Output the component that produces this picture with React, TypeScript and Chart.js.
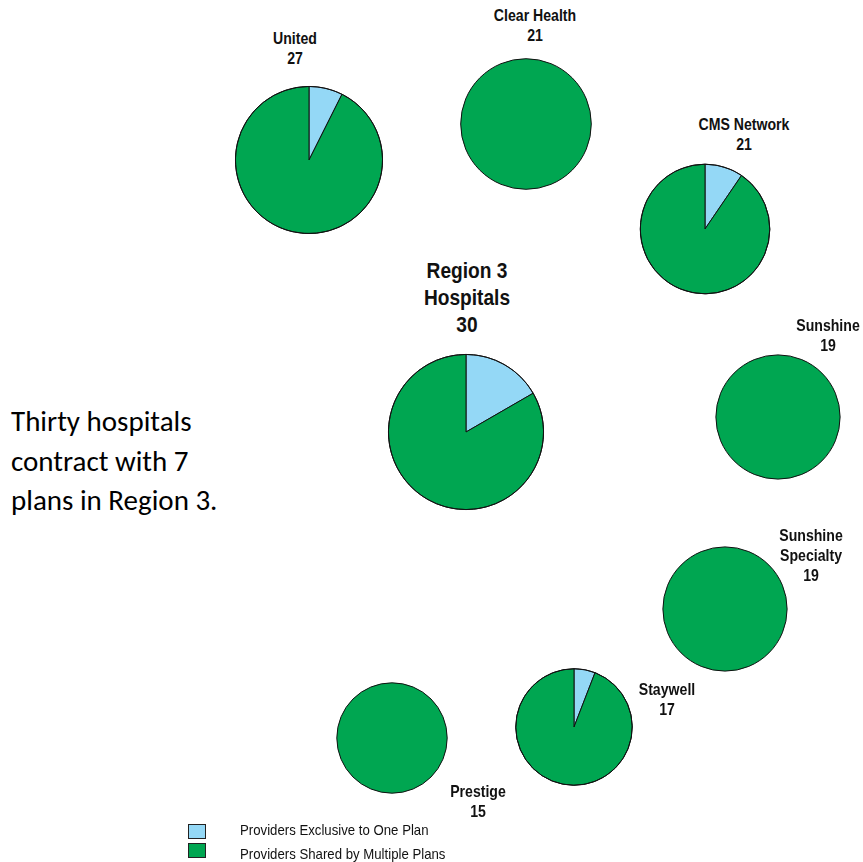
import React, { useEffect, useRef } from "react";
import { Chart, registerables } from "chart.js";
Chart.register(...registerables);

// ---- data ----
const planNames = [
  "Region 3\nHospitals",
  "United",
  "Clear Health",
  "CMS Network",
  "Sunshine",
  "Sunshine\nSpecialty",
  "Staywell",
  "Prestige",
];
const exclusiveProviders = [5, 2, 0, 2, 0, 0, 1, 0];
const sharedProviders = [25, 25, 21, 19, 19, 19, 16, 15];
const seriesLabels = ["Providers Exclusive to One Plan", "Providers Shared by Multiple Plans"];
const noteLines = ["Thirty hospitals", "contract with 7", "plans in Region 3."];

// ---- styles / layout ----
const SERIES_COLORS = ["#94D8F6", "#00A651"];
const RADIUS_PER_SQRT = 14.25;

const pieLayout = [
  { cx: 466, cy: 432, lx: 467, ly: 256.5, big: true },
  { cx: 309, cy: 160, lx: 295, ly: 29 },
  { cx: 526, cy: 124, lx: 535, ly: 6 },
  { cx: 705, cy: 229, lx: 744, ly: 115 },
  { cx: 778, cy: 417, lx: 828, ly: 316 },
  { cx: 725, cy: 609, lx: 811, ly: 526 },
  { cx: 574, cy: 727, lx: 667, ly: 680 },
  { cx: 392, cy: 738, lx: 478, ly: 782 },
];

const outlinePlugin = {
  id: "outline",
  afterDatasetsDraw(chart: any) {
    const meta = chart.getDatasetMeta(0);
    const arc = meta.data[0];
    if (!arc) return;
    const { x, y, outerRadius } = arc.getProps(["x", "y", "outerRadius"], true);
    const ctx = chart.ctx;
    ctx.save();
    ctx.beginPath();
    ctx.arc(x, y, outerRadius, 0, Math.PI * 2);
    ctx.lineWidth = 1;
    ctx.strokeStyle = "#111";
    ctx.stroke();
    ctx.restore();
  },
};

function PieChart({ idx }: { idx: number }) {
  const ref = useRef<HTMLCanvasElement>(null);
  const total = exclusiveProviders[idx] + sharedProviders[idx];
  const r = RADIUS_PER_SQRT * Math.sqrt(total);
  const S = 2 * Math.ceil(r) + 6;
  const pad = (S - 2 * r) / 2;
  const { cx, cy } = pieLayout[idx];
  useEffect(() => {
    const chart = new Chart(ref.current!, {
      type: "pie",
      data: {
        labels: seriesLabels,
        datasets: [
          {
            data: [exclusiveProviders[idx], sharedProviders[idx]],
            backgroundColor: SERIES_COLORS,
            borderColor: "#111",
            borderWidth: exclusiveProviders[idx] > 0 ? 1 : 0,
          },
        ],
      },
      options: {
        responsive: false,
        animation: false,
        events: [],
        layout: { padding: pad },
        plugins: { legend: { display: false }, tooltip: { enabled: false } },
      },
      plugins: [outlinePlugin],
    });
    return () => chart.destroy();
  }, []);
  return (
    <canvas
      ref={ref}
      width={S}
      height={S}
      style={{ position: "absolute", left: cx - S / 2, top: cy - S / 2, width: S, height: S }}
    />
  );
}

function PieLabel({ idx }: { idx: number }) {
  const { lx, ly, big } = pieLayout[idx] as any;
  const total = exclusiveProviders[idx] + sharedProviders[idx];
  const lines = [...planNames[idx].split("\n"), String(total)];
  return (
    <div
      style={{
        position: "absolute",
        left: lx - 100,
        top: ly,
        width: 200,
        textAlign: "center",
        fontFamily: '"Liberation Sans", Arial, sans-serif',
        fontWeight: "bold",
        fontSize: big ? 22 : 17,
        lineHeight: big ? "27px" : "20px",
        transform: big ? "scaleX(0.87)" : "scaleX(0.83)",
        color: "#111",
        whiteSpace: "nowrap",
      }}
    >
      {lines.map((l, i) => (
        <div key={i}>{l}</div>
      ))}
    </div>
  );
}

export default function App() {
  return (
    <div
      style={{
        position: "absolute",
        left: 0,
        top: 0,
        width: 863,
        height: 862,
        overflow: "hidden",
        background: "#fff",
      }}
    >
      {planNames.map((_, i) => (
        <PieChart key={"p" + i} idx={i} />
      ))}
      {planNames.map((_, i) => (
        <PieLabel key={"l" + i} idx={i} />
      ))}
      <div
        style={{
          position: "absolute",
          left: 11,
          top: 402,
          fontFamily: 'Carlito, Lato, "Open Sans", sans-serif',
          fontSize: 29,
          lineHeight: "39.5px",
          color: "#000",
          whiteSpace: "nowrap",
        }}
      >
        {noteLines.map((l, i) => (
          <div key={i}>{l}</div>
        ))}
      </div>
      {seriesLabels.map((label, i) => (
        <React.Fragment key={"lg" + i}>
          <div
            style={{
              position: "absolute",
              left: 188,
              top: 824 + i * 19,
              width: 16,
              height: 13,
              background: SERIES_COLORS[i],
              border: "1px solid #222",
            }}
          />
          <div
            style={{
              position: "absolute",
              left: 240,
              top: 821 + i * 23.5,
              fontFamily: '"Liberation Sans", Arial, sans-serif',
              fontSize: 15,
              lineHeight: "18px",
              transform: "scaleX(0.88)",
              transformOrigin: "left center",
              color: "#111",
              whiteSpace: "nowrap",
            }}
          >
            {label}
          </div>
        </React.Fragment>
      ))}
    </div>
  );
}
